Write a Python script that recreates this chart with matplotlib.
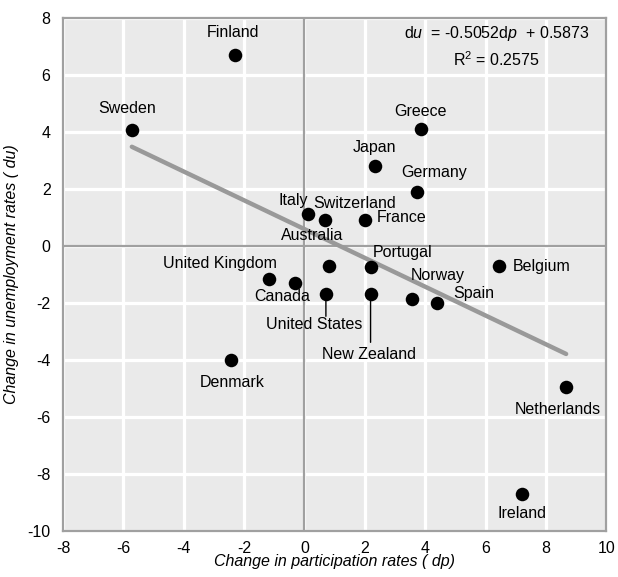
import matplotlib
matplotlib.use("Agg")
import matplotlib.pyplot as plt

plt.rcParams["font.family"] = ["Liberation Sans", "DejaVu Sans"]
plt.rcParams["mathtext.fontset"] = "custom"
plt.rcParams["mathtext.rm"] = "Liberation Sans"
plt.rcParams["mathtext.it"] = "Liberation Sans:italic"
plt.rcParams["axes.unicode_minus"] = False

countries = [
    "Finland", "Sweden", "Greece", "Japan", "Germany", "Italy", "Switzerland",
    "France", "Australia", "Portugal", "United Kingdom", "Canada",
    "United States", "New Zealand", "Norway", "Spain", "Belgium", "Denmark",
    "Netherlands", "Ireland",
]
dp = [-2.3, -5.72, 3.87, 2.33, 3.73, 0.11, 0.69, 1.99, 0.8, 2.19, -1.18, -0.3,
      0.71, 2.19, 3.56, 4.39, 6.46, -2.44, 8.67, 7.2]
du = [6.7, 4.07, 4.1, 2.79, 1.89, 1.11, 0.9, 0.9, -0.7, -0.73, -1.17, -1.29,
      -1.7, -1.7, -1.85, -2.02, -0.71, -4.0, -4.96, -8.7]

slope = -0.5052
intercept = 0.5873
r2 = 0.2575

x_ticks = [-8, -6, -4, -2, 0, 2, 4, 6, 8, 10]
y_ticks = [-10, -8, -6, -4, -2, 0, 2, 4, 6, 8]

# label placement: (dx px, dy px, ha), offset from the dot
PX = 0.72
label_pos = {
    "Finland": (-2, 22, "center"),
    "Sweden": (-5, 21, "center"),
    "Greece": (-1, 18, "center"),
    "Japan": (0, 19, "center"),
    "Germany": (17, 20, "center"),
    "Italy": (-15, 14, "center"),
    "Switzerland": (29, 17, "center"),
    "France": (12, 3, "left"),
    "Australia": (-16, 30, "center"),
    "Portugal": (32, 14, "center"),
    "United Kingdom": (-49, 16, "center"),
    "Canada": (-13, -14, "center"),
    "United States": (-12, -30, "center"),
    "New Zealand": (-2, -60, "center"),
    "Norway": (-1, 23, "left"),
    "Spain": (16, 10, "left"),
    "Belgium": (13, 0, "left"),
    "Denmark": (1, -23, "center"),
    "Netherlands": (-8, -22, "center"),
    "Ireland": (0, -20, "center"),
}
leaders = {"United States": -22, "New Zealand": -48}

fig = plt.figure(figsize=(6.18, 5.77), dpi=100)
ax = fig.add_axes([0.102, 0.080, 0.879, 0.889])
ax.set_facecolor("#EAEAEA")

ax.set_xlim(-8, 10)
ax.set_ylim(-10, 8)
ax.set_xticks(x_ticks)
ax.set_yticks(y_ticks)
ax.grid(True, color="white", linewidth=2.3, zorder=0)
ax.set_axisbelow(True)
ax.tick_params(length=0, labelsize=11.5, colors="black")
ax.tick_params(axis="y", pad=9)
ax.tick_params(axis="x", pad=7)
for s in ax.spines.values():
    s.set_color("#A0A0A0")
    s.set_linewidth(1.6)

ax.axhline(0, color="#A0A0A0", linewidth=1.6, zorder=1)
ax.axvline(0, color="#A0A0A0", linewidth=1.6, zorder=1)

x0, x1 = min(dp), max(dp)
ax.plot([x0, x1], [slope * x0 + intercept, slope * x1 + intercept],
        color="#999999", linewidth=3.2, solid_capstyle="round", zorder=2)

ax.scatter(dp, du, s=95, color="black", zorder=4, linewidths=0)

for name, x, y in zip(countries, dp, du):
    dx, dy, ha = label_pos[name]
    ax.annotate(name, (x, y), xytext=(dx * PX, dy * PX), textcoords="offset points",
                ha=ha, va="center", fontsize=11.5, zorder=5)
    if name in leaders:
        ax.annotate("", (x, y), xytext=(0, leaders[name] * PX), textcoords="offset points",
                    arrowprops=dict(arrowstyle="-", color="black", lw=1.0,
                                    shrinkA=0, shrinkB=0), zorder=3)

ax.text(6.37, 7.46, f"d$u$  = {slope:.4f}d$p$  + {intercept:.4f}",
        ha="center", va="center", fontsize=11.5, zorder=5)
ax.text(6.37, 6.54, f"R$^2$ = {r2:.4f}", ha="center", va="center", fontsize=11.5, zorder=5)

ax.set_xlabel("Change in participation rates ( dp)", fontsize=11.5, style="italic", labelpad=-1)
ax.set_ylabel("Change in unemployment rates ( du)", fontsize=11.5, style="italic", labelpad=6)

fig.savefig("out.png", dpi=100)
